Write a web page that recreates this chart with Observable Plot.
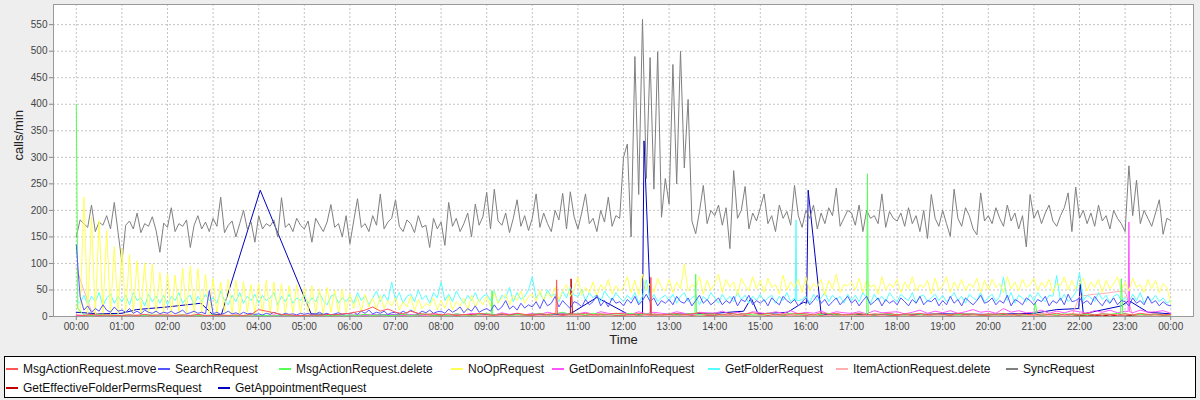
<!DOCTYPE html>
<html><head><meta charset="utf-8">
<script src="https://cdn.jsdelivr.net/npm/d3@7"></script>
<script src="https://cdn.jsdelivr.net/npm/@observablehq/plot@0.6"></script>
<style>
html,body{margin:0;padding:0;background:#eeeeee;}
#wrap{position:relative;width:1200px;height:400px;overflow:hidden;font-family:"Liberation Sans",Arial,sans-serif;}
#chart svg{display:block;}
#legend{position:absolute;left:4px;top:356px;width:1192px;height:42px;box-sizing:border-box;border:1px solid #000;background:#fff;}
.txt{position:absolute;font-size:12px;color:#111;white-space:nowrap;line-height:16px;}
.sw{position:absolute;width:12px;height:2px;}
</style></head><body>
<div id="wrap"><div id="chart"></div><div id="legend"></div></div>
<script>
// ---------------- DATA ----------------
const seriesNames = ["MsgActionRequest.move","SearchRequest","MsgActionRequest.delete","NoOpRequest","GetDomainInfoRequest","GetFolderRequest","ItemActionRequest.delete","SyncRequest","GetEffectiveFolderPermsRequest","GetAppointmentRequest"];
const seriesColors = ["#ff5555","#5555ff","#55ff55","#ffff55","#ff55ff","#55ffff","#ffafaf","#808080","#c00000","#0000c0"];
const yTickValues = [0,50,100,150,200,250,300,350,400,450,500,550];
const xTickLabels = ["00:00","01:00","02:00","03:00","04:00","05:00","06:00","07:00","08:00","09:00","10:00","11:00","12:00","13:00","14:00","15:00","16:00","17:00","18:00","19:00","20:00","21:00","22:00","23:00","24:00"];

// 5-minute samples from 00:00 to 24:00
const syncRequest = [
150,182,175,168,210,160,178,172,190,165,215,158,
102,172,180,165,195,158,175,170,188,162,121,176,
168,205,160,175,170,182,130,172,190,165,178,160,
185,170,225,158,172,180,150,175,200,165,178,140,
190,165,175,170,182,150,224,168,175,160,185,172,
165,180,140,185,172,160,178,211,168,175,150,190,
137,180,222,168,175,160,190,172,231,165,178,185,
220,170,160,182,175,158,190,168,172,130,185,165,
178,134,215,170,185,160,175,195,150,212,172,188,
234,165,240,180,172,195,158,185,220,170,190,162,
185,231,168,195,175,160,200,182,232,165,235,188,
165,195,231,175,185,160,200,178,225,170,190,185,
300,325,150,490,230,560,260,488,240,499,187,260,
212,475,250,500,280,409,180,156,198,247,175,200,
190,210,172,205,128,275,185,200,245,165,195,180,
205,231,175,190,160,210,185,198,172,247,190,168,
200,185,210,165,195,175,205,190,242,170,185,200,
195,172,210,160,200,185,190,175,231,168,198,185,
180,195,170,205,175,190,160,200,147,230,185,170,
200,175,151,240,185,170,205,190,165,154,233,180,
190,175,205,185,170,210,180,195,165,190,131,230,
185,200,175,195,210,180,170,190,205,233,160,244,
185,200,175,195,170,210,180,190,165,200,185,175,
160,284,190,257,175,200,185,170,195,220,155,185,
181];

const noOpRequest = [
20,8,225,6,187,5,181,6,162,5,132,5,
128,5,117,6,105,5,101,5,99,6,83,5,
81,5,78,6,91,5,95,5,90,6,80,5,
72,5,65,8,70,6,68,5,66,8,60,5,
62,6,68,5,65,8,62,5,58,6,60,5,
55,8,58,6,52,5,55,8,50,6,52,8,
43,15,38,10,42,18,35,12,40,15,30,20,
35,12,28,18,38,10,32,15,25,20,35,12,
30,15,38,12,28,20,35,10,40,18,32,22,
38,20,45,25,35,42,22,40,30,48,25,38,
42,28,50,30,45,35,55,32,48,60,38,52,
74,40,55,45,65,38,60,50,70,42,58,48,
55,75,45,68,40,80,50,62,45,72,55,48,
70,45,65,52,99,48,60,55,75,42,68,50,
62,80,45,70,55,65,40,72,58,48,75,52,
68,45,72,55,60,42,78,50,65,55,70,45,
75,48,62,55,70,40,68,52,80,45,60,58,
65,50,72,45,68,55,60,42,75,50,62,55,
70,45,65,52,75,48,60,55,68,42,72,50,
58,75,45,65,52,70,48,62,55,72,45,68,
50,70,55,62,45,75,52,65,48,70,55,60,
72,48,65,55,70,45,62,58,75,50,68,52,
60,72,48,65,55,70,45,68,52,62,75,50,
65,48,72,55,60,45,70,52,68,45,62,55,
25];

const getFolderRequest = [
30,25,40,22,38,28,45,20,35,42,25,38,
28,40,22,45,30,35,20,42,28,38,25,40,
22,38,30,45,25,35,40,22,38,28,42,30,
35,25,48,30,22,40,28,45,25,38,30,42,
25,40,30,35,45,22,38,28,42,25,35,30,
40,25,35,28,45,30,22,38,42,25,35,28,
38,25,45,30,40,22,35,48,28,42,30,65,
30,45,25,38,42,28,50,32,40,25,45,35,
65,30,42,28,48,35,25,40,30,45,28,38,
42,30,48,25,40,35,55,28,45,32,38,50,
75,35,45,30,50,38,42,28,48,35,55,40,
38,50,30,45,35,42,28,48,38,30,45,35,
28,40,32,45,25,38,69,30,42,28,35,40,
30,42,25,38,45,28,35,40,22,38,30,45,
35,25,42,30,38,28,45,32,40,25,38,30,
42,28,35,40,25,38,30,45,28,35,30,32,
38,25,42,30,35,45,28,40,32,38,25,42,
30,40,28,45,35,25,42,30,38,28,45,35,
28,42,35,30,45,25,38,40,28,35,42,30,
40,28,35,45,30,38,25,42,35,30,45,28,
35,42,28,38,74,30,45,25,40,35,28,42,
30,45,35,28,40,38,77,30,42,28,35,45,
83,30,40,35,28,45,32,40,25,38,42,30,
35,28,42,30,45,25,38,30,40,28,35,25,
30];
const getFolderExtra = [["15:46",30],["15:47",182],["15:48",30]];

const searchRequest = [
135,37,12,20,8,15,10,22,12,8,18,10,
12,8,15,6,10,5,12,8,6,10,5,8,
6,10,5,8,12,5,7,10,6,8,5,49,
5,8,4,6,10,5,7,4,8,5,6,4,
5,3,6,4,8,5,3,6,4,5,3,6,
4,6,3,5,8,4,6,3,5,7,4,6,
5,8,4,10,6,12,5,8,6,10,4,7,
8,5,10,6,12,8,5,10,7,12,6,9,
10,6,14,8,12,18,7,15,10,20,8,12,
15,10,22,12,18,30,14,20,12,25,16,22,
18,28,15,32,20,25,38,18,30,22,15,28,
25,18,32,22,28,40,20,30,18,35,25,28,
20,32,25,38,22,30,42,28,35,20,30,25,
32,22,38,28,25,35,20,30,40,25,32,22,
28,35,22,30,25,38,20,32,28,40,22,30,
25,32,20,35,28,22,38,30,25,32,20,28,
35,22,30,40,25,32,20,28,35,22,30,38,
25,32,20,30,38,22,28,35,20,32,25,30,
22,35,28,20,32,25,38,22,30,28,35,20,
30,22,38,25,32,20,35,28,22,30,40,25,
28,35,22,30,25,40,20,32,28,22,35,30,
22,32,28,38,20,30,25,35,22,42,28,30,
35,25,30,22,38,28,20,32,25,35,22,30,
28,20,35,25,30,22,38,25,30,20,28,22,
20];

// 10-minute samples from 00:00 to 24:00
const msgActionMove = [
3,2,4,2,3,2, 2,3,2,4,2,3, 3,2,3,2,4,2, 2,3,2,3,2,4,
13,10,7,4,3,2, 2,3,2,4,3,5, 6,9,12,18,10,14, 8,5,10,6,4,5,
3,5,2,4,3,6, 4,2,5,3,6,4, 3,5,4,6,3,5, 4,6,3,5,4,6,
5,3,6,4,5,3, 4,6,3,5,7,4, 5,3,6,4,5,7, 4,6,3,5,4,6,
5,3,7,4,6,3, 4,6,3,5,4,6, 3,5,4,6,3,5, 4,3,6,4,5,3,
5,4,6,3,5,4, 3,5,4,6,3,5, 4,6,3,5,4,3, 5,3,6,4,5,3,
4];
const msgActionMoveExtra = [["10:31",5],["10:32",69],["10:33",5],["12:35",3],["12:36",74],["12:37",3]];

const msgActionDelete = [
400,3,2,4,2,3, 2,3,1,2,3,2, 1,2,3,1,2,2, 3,1,2,2,1,3,
2,2,1,3,2,1, 2,1,3,2,2,1, 3,2,4,2,3,2, 2,4,2,3,5,2,
3,2,5,3,2,4, 6,3,5,2,4,3, 4,6,3,5,8,4, 5,3,6,4,3,5,
4,6,3,5,4,3, 5,3,4,6,3,5, 4,3,6,4,5,3, 3,5,4,3,6,4,
5,3,4,6,3,4, 3,5,4,3,5,4, 4,3,5,4,3,5, 3,4,3,5,4,3,
4,3,5,3,4,3, 5,3,4,3,5,4, 3,4,3,5,4,6, 5,3,4,3,4,3,
3];
const msgActionDeleteExtra = [["00:02",15],["09:06",3],["09:07",49],["09:08",3],["13:34",4],["13:35",80],["13:36",4],["17:21",269],["17:22",4],["21:02",27],["21:04",4],["22:54",5],["22:55",71],["22:57",5]];

const getDomainInfo = [
2,1,3,2,1,2, 1,2,1,3,1,2, 2,1,2,1,3,1, 1,2,1,2,1,3,
2,1,3,1,2,1, 1,2,1,2,3,1, 2,3,1,4,2,3, 3,2,4,2,3,5,
4,2,5,3,6,4, 5,3,7,4,6,3, 6,4,8,5,7,4, 5,8,4,9,6,5,
7,4,9,5,8,6, 5,9,6,4,8,7, 6,10,5,8,4,9, 7,5,9,6,11,5,
8,6,10,5,9,7, 6,9,5,11,7,8, 9,5,8,12,6,10, 7,11,6,9,13,8,
10,6,15,8,11,7, 8,12,6,10,7,11, 9,6,11,8,12,7, 10,7,12,8,9,11,
6];
const getDomainInfoExtra = [["23:04",9],["23:05",178],["23:06",9]];

const itemActionDelete = [
92,49,10,4,3,2, 2,1,3,2,1,2, 1,2,1,2,1,1, 2,1,1,2,1,2,
1,2,1,1,2,1, 2,1,2,1,1,2, 1,2,1,2,1,2, 2,1,2,1,2,1,
1,2,1,2,1,2, 2,1,2,1,2,1, 1,2,1,2,1,2, 2,1,2,1,2,1,
1,2,1,2,1,2, 2,1,2,1,2,1, 1,2,1,2,1,2, 2,1,2,1,2,1,
1,2,1,2,1,2, 2,1,2,1,2,1, 1,2,1,2,1,2, 2,1,2,1,2,1,
1,2,1,2,1,2, 2,1,2,1,2,1, 38,40,42,43,45,47, 48,3,2,1,2,1,
1];

const getEffFolderPerms = [
1,0,2,0,1,0, 0,1,0,2,0,1, 1,0,1,0,2,0, 0,2,0,1,0,1,
1,0,1,2,0,1, 0,1,0,1,2,0, 2,1,3,1,2,1, 1,2,1,3,1,2,
2,1,2,1,3,1, 1,3,1,2,1,2, 2,1,3,1,2,1, 1,2,1,3,1,2,
2,1,2,1,3,1, 1,3,1,2,1,2, 2,1,3,1,2,1, 1,2,1,2,1,3,
2,1,2,1,3,1, 1,3,1,2,1,2, 2,1,2,1,3,1, 1,2,1,3,1,2,
2,1,3,1,2,1, 1,2,1,2,1,3, 2,1,2,1,3,1, 1,2,1,3,1,2,
1];
const getEffFolderPermsExtra = [["10:51",71],["10:53",1]];

// irregular samples
const getAppointmentRequest = [
["00:00",8],["00:30",5],["01:00",6],["01:19",13],["02:00",18],["02:44",25],["03:00",3],["03:11",4],
["04:02",238],["05:09",5],["06:00",2],["07:00",3],["08:00",2],["09:00",4],["10:00",3],["10:50",5],
["11:25",36],["12:05",5],["12:25",3],["12:27",331],["12:36",0],["13:00",4],["14:00",6],["14:38",10],
["14:48",35],["14:57",5],["15:36",8],["15:57",27],["16:01",25],["16:03",238],["16:16",61],["16:20",5],
["16:30",3],["17:00",4],["18:00",3],["19:00",5],["20:00",4],["21:00",6],["21:30",13],["21:59",15],
["22:01",63],["22:05",5],["22:55",20],["23:05",30],["23:30",8],["24:00",5]];

// ---------------- BUILD ----------------
const day = (h, m) => new Date(Date.UTC(2000, 0, 1, h, m));
const parseT = s => { const [h, m] = s.split(":").map(Number); return day(h, m); };
const regular = (vals, step) => vals.map((v, i) => ({time: day(0, i * step), value: v}));
const pairs = list => list.map(([t, v]) => ({time: parseT(t), value: v}));
const merge = (a, b) => [...a, ...b].sort((p, q) => p.time - q.time);

const seriesData = [
  merge(regular(msgActionMove, 10), pairs(msgActionMoveExtra)),
  regular(searchRequest, 5),
  merge(regular(msgActionDelete, 10), pairs(msgActionDeleteExtra)),
  regular(noOpRequest, 5),
  merge(regular(getDomainInfo, 10), pairs(getDomainInfoExtra)),
  merge(regular(getFolderRequest, 5), pairs(getFolderExtra)),
  regular(itemActionDelete, 10),
  regular(syncRequest, 5),
  merge(regular(getEffFolderPerms, 10), pairs(getEffFolderPermsExtra)),
  pairs(getAppointmentRequest)
];

const xTicks = xTickLabels.map(parseT);
const gridStyle = {stroke: "#c4c4c4", strokeOpacity: 1, strokeDasharray: "2,2", strokeWidth: 1};

// series 0 is drawn last (on top)
const lineMarks = seriesData.map((d, i) => Plot.line(d, {x: "time", y: "value", stroke: seriesColors[i], strokeWidth: 1})).reverse();

const chart = Plot.plot({
  width: 1200, height: 350,
  marginLeft: 53, marginRight: 7, marginTop: 4, marginBottom: 34,
  style: {background: "transparent", fontFamily: '"Liberation Sans", Arial, sans-serif', fontSize: "10px", color: "#444"},
  x: {type: "utc", domain: [day(0, -30), day(24, 30)]},
  y: {domain: [0, 588]},
  marks: [
    Plot.frame({fill: "white", stroke: "none"}),
    Plot.gridX(xTicks, gridStyle),
    Plot.gridY(yTickValues.slice(1), gridStyle),
    ...lineMarks,
    Plot.frame({stroke: "#9a9a9a"}),
    Plot.axisX(xTicks, {tickFormat: (d, i) => xTickLabels[i].replace("24:00", "00:00"), tickSize: 4, tickPadding: 2, fontSize: 10, label: null, stroke: "#888", fill: "#444"}),
    Plot.axisY(yTickValues, {tickSize: 4, tickPadding: 2, fontSize: 10, label: null, stroke: "#888", fill: "#444"}),
    Plot.text(["calls/min"], {text: d => d, frameAnchor: "left", dx: -35, rotate: -90, fontSize: 13, fill: "#222"}),
    Plot.text(["Time"], {text: d => d, frameAnchor: "bottom", dy: 27, fontSize: 13, fill: "#222"})
  ]
});
document.getElementById("chart").appendChild(chart);

// legend layout: [swatch x on page, row]
const legendLayout = [[6,0],[158,0],[279,0],[451,0],[552,0],[708,0],[836,0],[1006,0],[6,1],[218,1]];
const legend = document.getElementById("legend");
seriesNames.forEach((name, i) => {
  const [lx, row] = legendLayout[i];
  const cy = row === 0 ? 12 : 31;
  const sw = document.createElement("div");
  sw.className = "sw";
  sw.style.left = (lx - 5) + "px";
  sw.style.top = (cy - 1) + "px";
  sw.style.background = seriesColors[i];
  legend.appendChild(sw);
  const tx = document.createElement("div");
  tx.className = "txt";
  tx.style.left = (lx - 5 + 17) + "px";
  tx.style.top = (cy - 8) + "px";
  tx.textContent = name;
  legend.appendChild(tx);
});
</script>
</body></html>
